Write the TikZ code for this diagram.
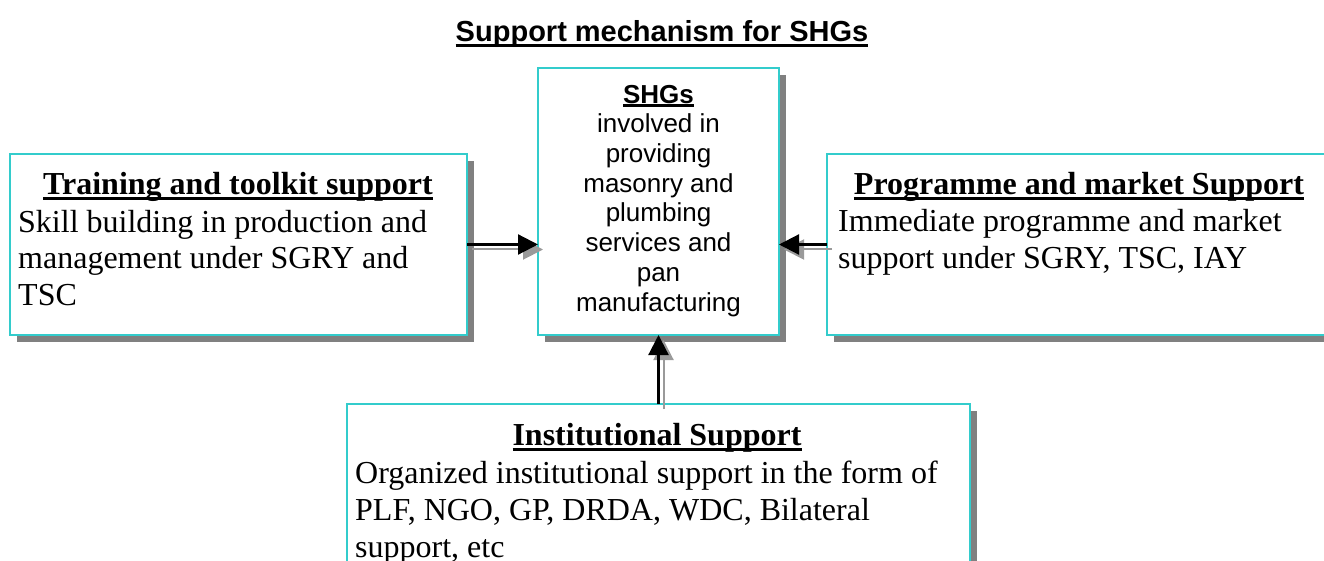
\documentclass[tikz,border=0pt]{standalone}
\usepackage{fontspec}
\setmainfont{Liberation Serif}
\newfontfamily\arialf{Liberation Sans}
\usetikzlibrary{arrows.meta,shadows}
\definecolor{boxcyan}{HTML}{33CCCC}
\definecolor{shadowgray}{HTML}{808080}
\definecolor{arrgray}{HTML}{9A9A9A}
\newcommand\myul[2][-5.5pt]{\setbox0\hbox{#2}\rlap{\rule[#1]{\wd0}{3pt}}\box0}
\begin{document}
\begin{tikzpicture}[x=1pt,y=-1pt,
  box/.style={draw=boxcyan, line width=2.2pt, fill=white, outer sep=0pt, inner sep=0pt,
    drop shadow={shadow xshift=6.5pt, shadow yshift=-7pt, fill=shadowgray, opacity=1}},
  serifbody/.style={inner sep=0pt, font=\fontsize{32}{36.8}\selectfont},
  seriftitle/.style={inner sep=0pt, font=\bfseries\fontsize{32}{36.8}\selectfont},
  sanstext/.style={inner sep=0pt, font=\arialf\fontsize{26}{29.7}\selectfont},
  arr/.style={line width=2.2pt, -{Triangle[length=20pt,width=20pt]}},
  arrsh/.style={draw=arrgray, line width=2pt, -{Triangle[length=20pt,width=20pt]},
    transform canvas={xshift=5pt, yshift=-5pt}}]
\useasboundingbox (0,0) rectangle (1324,561);
\clip (0,0) rectangle (1324,561);

% title
\node[inner sep=0pt, anchor=base, font=\arialf\bfseries\fontsize{29}{33}\selectfont] (title) at (662,42) {\myul[-5pt]{Support mechanism for SHGs}};

% boxes
\node[box, anchor=north west, minimum width=457pt, minimum height=181pt] (train) at (10,154) {};
\node[box, anchor=north west, minimum width=241pt, minimum height=267pt] (shg) at (538,68) {};
\node[box, anchor=north west, minimum width=540pt, minimum height=181pt] (prog) at (827,154) {};
\node[box, anchor=north west, minimum width=623pt, minimum height=220pt] (inst) at (347,404) {};

% arrows (shadows first)
\draw[arrsh] (train.east) -- (train.east -| shg.west);
\draw[arr] (train.east) -- (train.east -| shg.west);
\draw[arrsh] (prog.west) -- (prog.west -| shg.east);
\draw[arr] (prog.west) -- (prog.west -| shg.east);
\draw[arrsh] (inst.north) -- (inst.north |- shg.south);
\draw[arr] (inst.north) -- (inst.north |- shg.south);

% center text (base anchor = last line)
\node[sanstext, anchor=base, align=center] (shgtext) at (658.5,311) {\myul[-4pt]{\bfseries SHGs}\\involved in\\providing\\masonry and\\plumbing\\services and\\pan\\manufacturing};

% left box text
\node[seriftitle, anchor=base] (traintitle) at (238,195) {\myul{Training and toolkit support}};
\node[serifbody, anchor=base west, align=left] (trainbody) at (18,305.6) {Skill building in production and\\management under SGRY and\\TSC};

% right box text
\node[seriftitle, anchor=base] (progtitle) at (1079,195) {\myul{Programme and market Support}};
\node[serifbody, anchor=base west, align=left] (progbody) at (838,268.8) {Immediate programme and market\\support under SGRY, TSC, IAY};

% bottom box text
\node[seriftitle, anchor=base] (insttitle) at (657,445) {\myul{Institutional Support}};
\node[serifbody, anchor=base west, align=left] (instbody) at (355,557) {Organized institutional support in the form of\\PLF, NGO, GP, DRDA, WDC, Bilateral\\support, etc};
\end{tikzpicture}
\end{document}
